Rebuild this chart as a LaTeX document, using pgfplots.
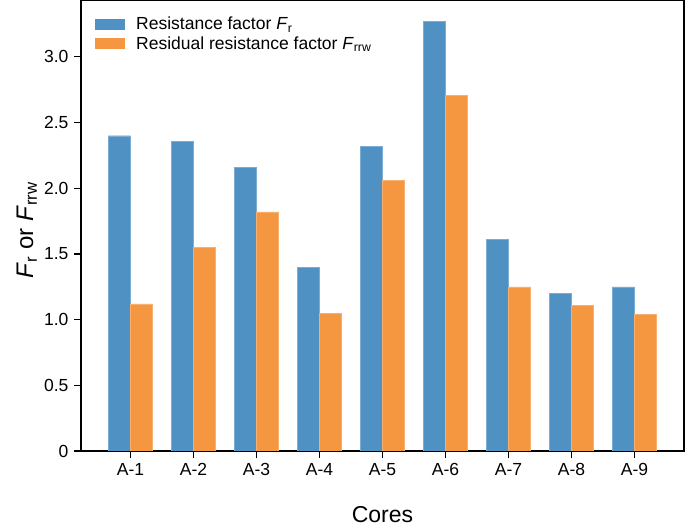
\documentclass[border=0pt]{standalone}
\usepackage{fontspec}
\setmainfont{Liberation Sans}
\usepackage{pgfplots}
\pgfplotsset{compat=1.18}
\definecolor{cblue}{HTML}{4F91C3}
\definecolor{corange}{HTML}{F59641}
\begin{document}
\begin{tikzpicture}
\path[use as bounding box] (-81pt,-81pt) rectangle (604pt,451pt);
\begin{axis}[
  at={(0,0)}, anchor=south west,
  scale only axis, width=603pt, height=451pt,
  xmin=-0.785, xmax=8.785, ymin=0, ymax=3.4335,
  xtick={0,1,2,3,4,5,6,7,8},
  xticklabels={A-1,A-2,A-3,A-4,A-5,A-6,A-7,A-8,A-9},
  ytick={0,0.5,1,1.5,2,2.5,3},
  yticklabels={0,0.5,1.0,1.5,2.0,2.5,3.0},
  tick align=outside, xtick pos=bottom, ytick pos=left,
  major tick length=7pt,
  axis line style={line width=1.1pt},
  every tick/.style={black, line width=1.1pt},
  tick label style={font=\fontsize{17.5}{20}\selectfont},
  xticklabel style={yshift=-2pt},
  yticklabel style={xshift=-2pt},
  xlabel={Cores},
  ylabel={\textit{F}\textsubscript{r} or \textit{F}\textsubscript{rrw}},
  every axis x label/.style={at={(axis description cs:0.5,-0.14)}, anchor=center, font=\fontsize{23}{27}\selectfont},
  every axis y label/.style={at={(axis description cs:-0.09,0.49)}, anchor=center, rotate=90, font=\fontsize{24}{28}\selectfont},
  ybar, bar width=0.35,
  legend style={draw=none, fill=none, at={(axis description cs:0,1)}, anchor=north west,
    xshift=14pt, yshift=-15pt, font=\fontsize{17.5}{20}\selectfont, row sep=1pt,
    inner sep=0pt},
  legend image code/.code={\path[#1, draw=none] (0pt,-5.5pt) rectangle (30pt,5.5pt); \path[draw=none, fill=none] (0pt,0pt) -- (39pt,0pt);},
  legend cell align=left,
]
\addplot[fill=cblue, draw=cblue!75!white, line width=0.4pt, bar shift=-0.175] coordinates {
 (0,2.40) (1,2.36) (2,2.16) (3,1.40) (4,2.32) (5,3.27) (6,1.61) (7,1.20) (8,1.25)};
\addplot[fill=corange, draw=corange!75!white, line width=0.4pt, bar shift=0.175] coordinates {
 (0,1.12) (1,1.55) (2,1.82) (3,1.05) (4,2.06) (5,2.71) (6,1.25) (7,1.11) (8,1.04)};
\legend{Resistance factor \textit{F}\textsubscript{r}, Residual resistance factor \textit{F}\textsubscript{rrw}}
\end{axis}
\end{tikzpicture}
\end{document}
